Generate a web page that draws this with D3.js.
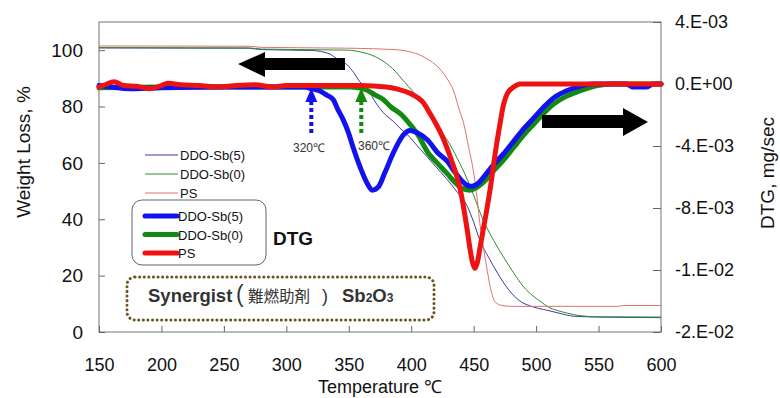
<!DOCTYPE html>
<html>
<head>
<meta charset="utf-8">
<script src="https://cdn.jsdelivr.net/npm/d3@7"></script>
<style>
  body { margin: 0; background: #fff; }
  svg { display: block; font-family: "Liberation Sans", Arial, sans-serif; }
</style>
</head>
<body>
<svg id="chart" width="780" height="398"></svg>
<script>
// TGA curves: [temperature, weight %]
const tgaSb5 = [[150,100.8],[270,100.7],[280,100.2],[320,99.9],[330,99.3],[335,98.6],[342,96.5],[349,94.7],[354,92],[359,88.7],[365,86.3],[370,82.5],[375,79.2],[380,76.8],[386,74.6],[391,72.3],[397,70],[401,68],[410,63.5],[420,58.5],[429,54],[437,49.5],[445,44.5],[450,39],[455,32.5],[462,26.5],[469,21],[478,15],[487,11],[497,9],[509,7.7],[520,6.5],[530,5.6],[550,5.3],[600,5.1]];
const tgaSb0 = [[150,100.9],[270,100.8],[280,100.4],[350,100],[360,99.3],[368,98.3],[375,96.8],[385,93.5],[395,88.5],[401,85.5],[410,80.5],[420,73.5],[429,68],[437,61.5],[445,54],[450,48.5],[455,42.5],[460,37.5],[466,32.5],[474,26.5],[482,21],[490,16],[497,13],[503,11],[510,8.8],[518,7.5],[525,6.7],[535,5.8],[550,5.4],[600,5.3]];
const tgaPS = [[150,101.5],[270,101.4],[280,101],[350,100.7],[390,100.1],[400,99.3],[407,98.3],[415,96.3],[423,93.3],[430,89],[434,85.5],[438,79.5],[442,74],[446,65.5],[450,56.5],[453,46.5],[455,38.5],[458,29.5],[461,21.5],[464,14.5],[467,10.8],[472,9.5],[480,9.1],[565,9.1],[570,9.4],[600,9.4]];

// DTG curves: [temperature, mg/sec x 1e-3]
const dtgSb5 = [[150,-0.1],[160,-0.2],[175,-0.3],[200,-0.25],[250,-0.2],[300,-0.2],[315,-0.2],[320,-0.3],[327,-0.45],[332,-0.7],[337.5,-1.0],[341,-1.6],[345.5,-2.3],[350,-3.2],[353.5,-4.1],[359,-5.35],[364.7,-6.4],[368.8,-6.85],[373.6,-6.65],[379,-5.7],[385.6,-4.45],[393.6,-3.3],[399,-3.0],[404.8,-3.15],[412.8,-3.6],[422,-4.5],[429,-5.0],[435,-5.7],[439,-6.1],[444,-6.5],[448,-6.6],[452,-6.5],[455,-6.3],[460,-5.8],[466,-5.2],[474,-4.5],[482,-3.7],[490,-2.9],[498,-2.2],[506,-1.5],[514,-0.9],[524,-0.45],[535,-0.15],[545,0],[572,0],[578,-0.2],[588,-0.2],[594,0],[600,0]];
const dtgSb0 = [[150,-0.25],[200,-0.2],[300,-0.2],[351,-0.2],[358,-0.25],[364.7,-0.4],[371,-0.7],[377.6,-1.0],[384,-1.5],[391,-1.9],[398,-2.5],[404.8,-3.2],[413.6,-4.45],[422,-5.2],[429,-5.8],[435,-6.35],[440,-6.7],[447,-6.85],[452,-6.7],[457,-6.4],[466,-5.6],[474,-4.9],[482,-4.1],[490,-3.3],[498,-2.6],[506,-1.9],[514,-1.3],[524,-0.8],[535,-0.45],[549,-0.1],[560,0],[600,0]];
const dtgPS = [[150,-0.2],[155,-0.05],[162,0.15],[170,-0.1],[180,-0.15],[190,-0.3],[200,-0.1],[205,0.05],[215,-0.05],[230,-0.1],[245,-0.2],[260,-0.1],[275,-0.05],[290,-0.2],[300,-0.1],[320,-0.1],[340,-0.1],[360,-0.1],[380,-0.2],[390,-0.35],[399,-0.6],[409.6,-1.2],[415,-1.9],[420,-2.6],[425,-3.4],[429,-4.2],[433,-5.1],[437,-6.1],[440,-7.1],[442,-8.0],[445,-9.5],[447,-10.6],[449,-11.5],[451,-11.9],[453,-11.5],[455,-10.6],[459,-8.8],[463,-6.9],[467,-4.6],[471,-2.6],[474,-1.3],[477,-0.6],[482,-0.2],[487,0],[600,0]];

const xTicks = [150, 200, 250, 300, 350, 400, 450, 500, 550, 600];
const yLeftTicks = [0, 20, 40, 60, 80, 100];
const yRightTicks = [4, 0, -4, -8, -12, -16];
const yRightLabels = ["4.E-03", "0.E+00", "-4.E-03", "-8.E-03", "-1.E-02", "-2.E-02"];

const seriesNames = ["DDO-Sb(5)", "DDO-Sb(0)", "PS"];
const thinColors = ["#3b3b9c", "#2e8b2e", "#e07070"];
const thickColors = ["#1212ee", "#128a12", "#ee1212"];

const svg = d3.select("#chart");
const plotL = 99, plotR = 661, plotT = 22, plotB = 332;

const x = d3.scaleLinear().domain([150, 600]).range([plotL, plotR]);
const yL = d3.scaleLinear().domain([0, 110]).range([plotB, plotT]);
const yR = d3.scaleLinear().domain([-16, 4]).range([plotB, plotT]);

// frame
svg.append("rect")
  .attr("x", plotL).attr("y", plotT)
  .attr("width", plotR - plotL).attr("height", plotB - plotT)
  .attr("fill", "none").attr("stroke", "#8a8a8a").attr("stroke-width", 1.2);

// axes
const gx = svg.append("g").attr("transform", `translate(0,${plotB})`)
  .call(d3.axisBottom(x).tickValues(xTicks).tickSize(-6).tickFormat(d3.format("d")));
gx.select(".domain").remove();
gx.selectAll("line").attr("stroke", "#666");
gx.selectAll("text").attr("y", 39).attr("dy", 0).attr("font-size", 18).attr("fill", "#111");

const gyl = svg.append("g").attr("transform", `translate(${plotL},0)`)
  .call(d3.axisLeft(yL).tickValues(yLeftTicks).tickSize(-6).tickPadding(16));
gyl.select(".domain").remove();
gyl.selectAll("line").attr("stroke", "#666");
gyl.selectAll("text").attr("font-size", 19).attr("fill", "#111");

const gyr = svg.append("g").attr("transform", `translate(${plotR},0)`)
  .call(d3.axisRight(yR).tickValues(yRightTicks).tickSize(-8).tickPadding(14)
    .tickFormat((d, i) => yRightLabels[i]));
gyr.select(".domain").remove();
gyr.selectAll("line").attr("stroke", "#666");
gyr.selectAll("text").attr("font-size", 18).attr("fill", "#111");

// axis titles
svg.append("text").attr("x", 380).attr("y", 393).attr("text-anchor", "middle")
  .attr("font-size", 18).attr("fill", "#111").text("Temperature ℃");
svg.append("text").attr("transform", "translate(30,152) rotate(-90)").attr("text-anchor", "middle")
  .attr("font-size", 19).attr("fill", "#111").text("Weight Loss, %");
svg.append("text").attr("transform", "translate(774,173) rotate(-90)").attr("text-anchor", "middle")
  .attr("font-size", 19).attr("fill", "#111").text("DTG, mg/sec");

const lineL = d3.line().x(d => x(d[0])).y(d => yL(d[1])).curve(d3.curveMonotoneX);
const lineR = d3.line().x(d => x(d[0])).y(d => yR(d[1])).curve(d3.curveMonotoneX);

// thin TGA lines
[tgaSb5, tgaSb0, tgaPS].forEach((s, i) => {
  svg.append("path").datum(s).attr("d", lineL)
    .attr("fill", "none").attr("stroke", thinColors[i]).attr("stroke-width", 1);
});

// thick DTG lines (green, blue, red on top)
[[dtgSb0, 1], [dtgSb5, 0], [dtgPS, 2]].forEach(([s, i]) => {
  svg.append("path").datum(s).attr("d", lineR)
    .attr("fill", "none").attr("stroke", thickColors[i]).attr("stroke-width", 5)
    .attr("stroke-linejoin", "round").attr("stroke-linecap", "round");
});

// big arrows
svg.append("polygon")
  .attr("points", "238,64 265,52 265,58 345,58 345,70 265,70 265,77")
  .attr("fill", "#000");
svg.append("polygon")
  .attr("points", "648,122 623,108 623,115 542,115 542,128 623,128 623,136")
  .attr("fill", "#000");

// onset arrows
const onsets = [[320, "#1212ee", "320℃", 293], [360, "#128a12", "360℃", 358]];
onsets.forEach(([t, c, label, lx]) => {
  const xc = x(t);
  svg.append("line").attr("x1", xc).attr("x2", xc).attr("y1", 101).attr("y2", 135)
    .attr("stroke", c).attr("stroke-width", 4).attr("stroke-dasharray", "4,3");
  svg.append("polygon")
    .attr("points", `${xc},88 ${xc - 6},102 ${xc + 6},102`).attr("fill", c);
  svg.append("text").attr("x", lx).attr("y", t === 320 ? 152 : 150)
    .attr("font-size", 12).attr("fill", "#333").text(label);
});

// thin legend
seriesNames.forEach((n, i) => {
  const yy = 155 + i * 19;
  svg.append("line").attr("x1", 145).attr("x2", 178).attr("y1", yy).attr("y2", yy)
    .attr("stroke", thinColors[i]).attr("stroke-width", 1);
  svg.append("text").attr("x", 180).attr("y", yy + 5).attr("font-size", 13)
    .attr("fill", "#111").text(n);
});

// thick legend box
svg.append("rect").attr("x", 132).attr("y", 200).attr("width", 134).attr("height", 65)
  .attr("rx", 10).attr("fill", "#fff").attr("stroke", "#666").attr("stroke-width", 1);
seriesNames.forEach((n, i) => {
  const yy = 216 + i * 18.5;
  svg.append("line").attr("x1", 145).attr("x2", 177).attr("y1", yy).attr("y2", yy)
    .attr("stroke", thickColors[i]).attr("stroke-width", 5).attr("stroke-linecap", "round");
  svg.append("text").attr("x", 178).attr("y", yy + 5).attr("font-size", 13)
    .attr("fill", "#111").text(n);
});
svg.append("text").attr("x", 273).attr("y", 245).attr("font-size", 19)
  .attr("font-weight", "bold").attr("fill", "#111").text("DTG");

// synergist box
svg.append("rect").attr("x", 127).attr("y", 277).attr("width", 307).attr("height", 43)
  .attr("rx", 8).attr("fill", "#fff").attr("stroke", "#6b5424").attr("stroke-width", 3)
  .attr("stroke-dasharray", "0.1,4.5").attr("stroke-linecap", "round");
const syn = svg.append("text").attr("y", 302).attr("fill", "#333");
syn.append("tspan").attr("x", 148).attr("font-size", 18.5).attr("font-weight", "bold").text("Synergist");
syn.append("tspan").attr("x", 236).attr("font-size", 23).text("(");
syn.append("tspan").attr("x", 248).attr("font-size", 15.5)
  .attr("font-family", "'Noto Sans CJK JP', sans-serif").text("難燃助剤");
syn.append("tspan").attr("x", 322).attr("font-size", 18).text(")");
syn.append("tspan").attr("x", 342).attr("font-size", 18.5).attr("font-weight", "bold").text("Sb");
syn.append("tspan").attr("font-size", 12).attr("font-weight", "bold").text("2");
syn.append("tspan").attr("font-size", 18.5).attr("font-weight", "bold").text("O");
syn.append("tspan").attr("font-size", 12).attr("font-weight", "bold").text("3");
</script>
</body>
</html>
